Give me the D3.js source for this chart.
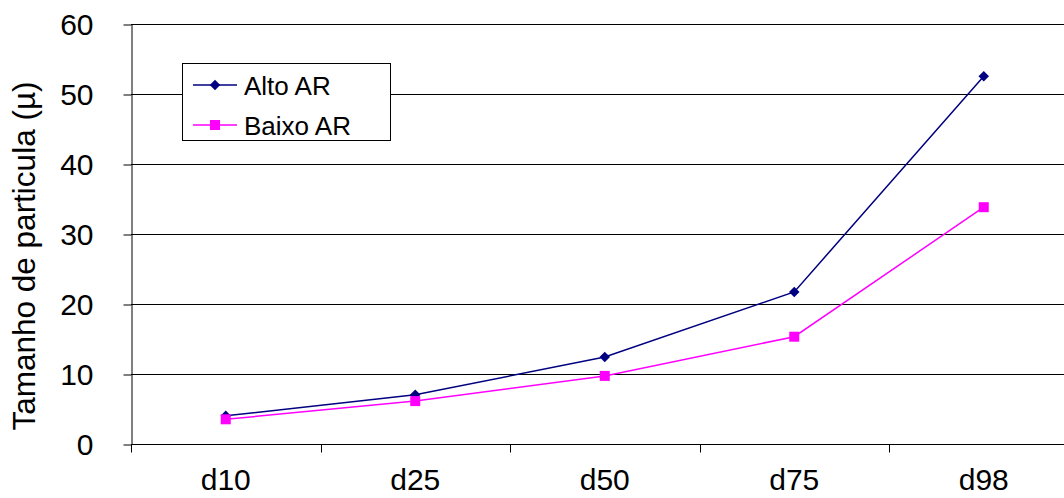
<!DOCTYPE html>
<html>
<head>
<meta charset="utf-8">
<script src="https://cdn.jsdelivr.net/npm/d3@7"></script>
<style>
  html, body { margin: 0; padding: 0; background: #fff; }
  svg { display: block; font-family: "Liberation Sans", Arial, sans-serif; }
</style>
</head>
<body>
<svg id="chart" width="1064" height="498"></svg>
<script>
// Particle size distribution percentiles
const categories = ["d10", "d25", "d50", "d75", "d98"];
const altoAR  = [4.1, 7.1, 12.5, 21.8, 52.6];
const baixoAR = [3.6, 6.2, 9.8, 15.4, 33.9];
const yTicks  = [0, 10, 20, 30, 40, 50, 60];
const seriesNames = ["Alto AR", "Baixo AR"];

const svg = d3.select("#chart");
const plotLeft = 131, plotRight = 1078.5, plotTop = 24.5, plotBottom = 444.5;

const x = d3.scaleBand().domain(categories).range([plotLeft, plotRight]);
const y = d3.scaleLinear().domain([0, 60]).range([plotBottom, plotTop]);
const snap = v => Math.round(v) + 0.5;

// horizontal gridlines
svg.append("g")
  .selectAll("line")
  .data(yTicks.filter(d => d > 0))
  .join("line")
  .attr("x1", plotLeft).attr("x2", plotRight)
  .attr("y1", d => snap(y(d) - 0.5)).attr("y2", d => snap(y(d) - 0.5))
  .attr("stroke", "#000").attr("stroke-width", 1);

// y axis
const yAxis = svg.append("g")
  .attr("transform", `translate(${plotLeft + 0.5},0)`)
  .call(d3.axisLeft(y).tickValues(yTicks).tickSize(8).tickPadding(8).tickSizeOuter(0));
yAxis.select(".domain").attr("stroke", "#000");
yAxis.selectAll(".tick line").attr("stroke", "#000");
yAxis.selectAll(".tick text")
  .attr("font-size", 30).attr("font-family", "Liberation Sans, Arial, sans-serif")
  .attr("fill", "#000").attr("x", -38);

// x axis: ticks sit on the band boundaries
const xAxisG = svg.append("g").attr("transform", `translate(0,${snap(plotBottom - 0.5)})`);
xAxisG.append("line").attr("x1", plotLeft).attr("x2", plotRight).attr("stroke", "#000");
const boundaries = categories.map(c => x(c)).concat([plotRight]);
xAxisG.selectAll("line.tk")
  .data(boundaries)
  .join("line").attr("class", "tk")
  .attr("x1", d => snap(d)).attr("x2", d => snap(d))
  .attr("y1", 0).attr("y2", 8).attr("stroke", "#000");
xAxisG.selectAll("text")
  .data(categories)
  .join("text")
  .attr("x", d => x(d) + x.bandwidth() / 2)
  .attr("y", 45)
  .attr("text-anchor", "middle")
  .attr("font-size", 30)
  .attr("fill", "#000")
  .text(d => d);

// y axis title
svg.append("text")
  .attr("transform", `translate(34.5,256) rotate(-90)`)
  .attr("text-anchor", "middle")
  .attr("font-size", 31.5)
  .attr("fill", "#000")
  .text("Tamanho de particula (µ)");

const cx = d => x(d) + x.bandwidth() / 2;
const line = d3.line().x((d, i) => cx(categories[i])).y(d => y(d));
const diamond = d3.symbol().type(d3.symbolSquare).size(55);

// Alto AR series
svg.append("path").datum(altoAR)
  .attr("d", line).attr("fill", "none").attr("stroke", "#000080").attr("stroke-width", 1.5);
svg.append("g").selectAll("path")
  .data(altoAR)
  .join("path")
  .attr("d", diamond)
  .attr("transform", (d, i) => `translate(${cx(categories[i])},${y(d)}) rotate(45)`)
  .attr("fill", "#000080");

// Baixo AR series
svg.append("path").datum(baixoAR)
  .attr("d", line).attr("fill", "none").attr("stroke", "#FF00FF").attr("stroke-width", 1.5);
svg.append("g").selectAll("rect")
  .data(baixoAR)
  .join("rect")
  .attr("x", (d, i) => cx(categories[i]) - 5)
  .attr("y", d => y(d) - 5)
  .attr("width", 10).attr("height", 10)
  .attr("fill", "#FF00FF");

// legend
const lg = svg.append("g");
lg.append("rect")
  .attr("x", 182.5).attr("y", 63.5).attr("width", 208).attr("height", 77)
  .attr("fill", "#fff").attr("stroke", "#000").attr("stroke-width", 1);
const legendItems = [
  { name: seriesNames[0], color: "#000080", shape: "diamond", yy: 85 },
  { name: seriesNames[1], color: "#FF00FF", shape: "square", yy: 125 }
];
legendItems.forEach(it => {
  lg.append("line").attr("x1", 193).attr("x2", 237)
    .attr("y1", it.yy).attr("y2", it.yy)
    .attr("stroke", it.color).attr("stroke-width", 1.5);
  if (it.shape === "diamond") {
    lg.append("path")
      .attr("d", diamond)
      .attr("transform", `translate(215,${it.yy}) rotate(45)`)
      .attr("fill", it.color);
  } else {
    lg.append("rect").attr("x", 210).attr("y", it.yy - 5)
      .attr("width", 10).attr("height", 10).attr("fill", it.color);
  }
  lg.append("text").attr("x", 244).attr("y", it.yy + 9.5)
    .attr("font-size", 26).attr("fill", "#000").text(it.name);
});
</script>
</body>
</html>
